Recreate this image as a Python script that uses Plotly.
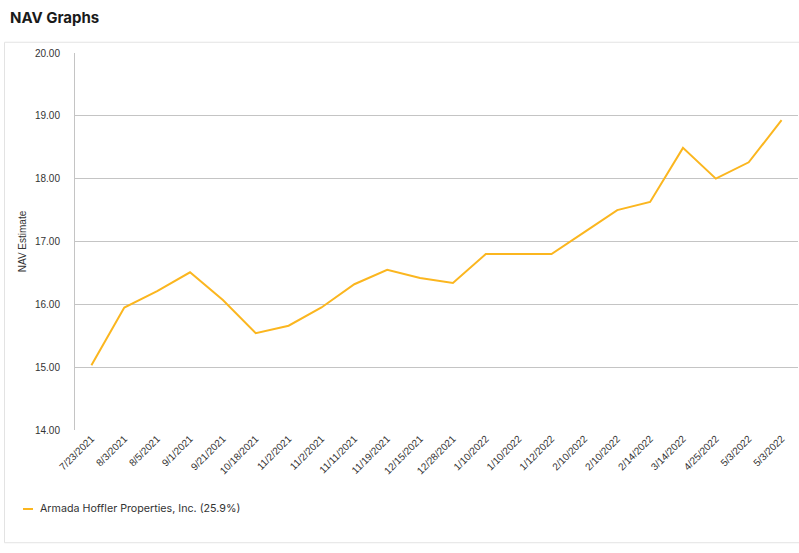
import plotly.graph_objects as go

# NAV estimate history
dates = ["7/23/2021", "8/3/2021", "8/5/2021", "9/1/2021", "9/21/2021", "10/18/2021",
         "11/2/2021", "11/2/2021", "11/11/2021", "11/19/2021", "12/15/2021", "12/28/2021",
         "1/10/2022", "1/10/2022", "1/12/2022", "2/10/2022", "2/10/2022", "2/14/2022",
         "3/14/2022", "4/25/2022", "5/3/2022", "5/3/2022"]
nav = [15.03, 15.95, 16.21, 16.51, 16.07, 15.54,
       15.66, 15.95, 16.32, 16.55, 16.42, 16.34,
       16.80, 16.80, 16.80, 17.15, 17.50, 17.63,
       18.49, 18.00, 18.26, 18.93]
series_name = "Armada Hoffler Properties, Inc. (25.9%)"
y_ticks = [14, 15, 16, 17, 18, 19, 20]

idx = list(range(len(dates)))  # dates repeat, so plot on positions

line_color = "#FBB61F"
grid_color = "#C4C4C4"
text_color = "#333333"

fig = go.Figure()

fig.add_trace(go.Scatter(
    x=idx,
    y=nav,
    mode="lines",
    name=series_name,
    line=dict(color=line_color, width=2),
    hovertemplate="%{text}: %{y:.2f}<extra></extra>",
    text=dates,
    showlegend=False,
))

# outer panel frame
fig.add_shape(
    type="rect",
    xref="paper", yref="paper",
    x0=-0.0975, x1=1.02, y0=-0.299, y1=1.0285,
    line=dict(color="#E3E3E3", width=1),
    fillcolor="rgba(0,0,0,0)",
    layer="below",
)

# small legend key like the original (short line + label)
fig.add_shape(
    type="line",
    xref="paper", yref="paper",
    x0=-0.0719, x1=-0.0581, y0=-0.2095, y1=-0.2095,
    line=dict(color=line_color, width=2),
)
fig.add_annotation(
    xref="paper", yref="paper",
    x=-0.0512, y=-0.2095,
    xanchor="left", yanchor="middle",
    text=series_name,
    showarrow=False,
    font=dict(family="Inter, Roboto, sans-serif", size=10.7, color=text_color),
)

fig.update_layout(
    width=799,
    height=553,
    margin=dict(l=75, r=1, t=53, b=123),
    paper_bgcolor="white",
    plot_bgcolor="white",
    title=dict(
        text="<b>NAV Graphs</b>",
        xref="container", yref="container",
        x=10 / 799, xanchor="left",
        y=1 - 18 / 553, yanchor="middle",
        font=dict(family="Inter, Roboto, sans-serif", size=15, color="#1A1A1A"),
    ),
    xaxis=dict(
        range=[-0.5, len(dates) - 0.5],
        tickmode="array",
        tickvals=idx,
        ticktext=dates,
        tickangle=-45,
        tickfont=dict(family="Liberation Sans, Arial, sans-serif", size=10, color=text_color),
        showgrid=False,
        zeroline=False,
        showline=False,
        ticks="",
        fixedrange=True,
    ),
    yaxis=dict(
        range=[14, 20],
        tickmode="array",
        tickvals=y_ticks,
        tickformat=".2f",
        tickfont=dict(family="Liberation Sans, Arial, sans-serif", size=10, color=text_color),
        ticklabelstandoff=12,
        showgrid=True,
        gridcolor=grid_color,
        gridwidth=1,
        zeroline=False,
        showline=True,
        linecolor=grid_color,
        linewidth=1,
        ticks="",
        title=dict(
            text="NAV Estimate",
            standoff=6,
            font=dict(family="Liberation Sans, Arial, sans-serif", size=10, color=text_color),
        ),
        fixedrange=True,
    ),
)

# the page's default 8px body margin would shift the figure
fig.write_html(
    "out.html",
    config={"displayModeBar": False},
    post_script="document.body.style.margin='0px';",
)
